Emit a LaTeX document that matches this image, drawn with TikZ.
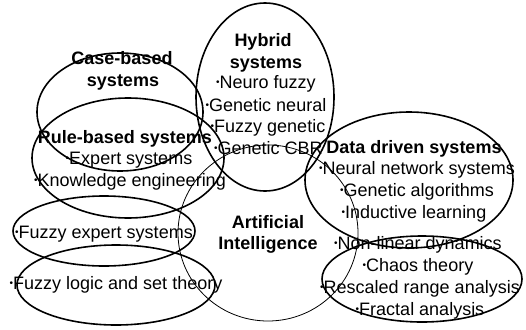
\documentclass[tikz,border=0pt]{standalone}
\usepackage{fontspec}
\setmainfont{Liberation Sans}
\usetikzlibrary{shapes.geometric}
\newcommand\bdot{\raisebox{2.6pt}{\fontsize{10}{10}\selectfont •}}
\begin{document}
\begin{tikzpicture}[x=1pt,y=-1pt,
  ring/.style={draw=black, line width=1.6pt, ellipse, inner sep=0pt},
  thinring/.style={draw=black, line width=0.8pt, ellipse, inner sep=0pt},
  lbl/.style={anchor=base, inner sep=0pt, font=\fontsize{18}{21}\selectfont},
  hd/.style={anchor=base, inner sep=0pt, font=\fontsize{18}{21}\selectfont\bfseries}]
\useasboundingbox (0,0) rectangle (526,329);
% ellipses
\node[thinring, minimum width=180pt, minimum height=176pt] (aiE) at (268,233) {};
\node[ring, minimum width=166pt, minimum height=118pt] (caseE) at (120,112) {};
\node[ring, minimum width=192pt, minimum height=120pt] (ruleE) at (128,158) {};
\node[ring, minimum width=138pt, minimum height=188pt] (hybE) at (265,97) {};
\node[ring, minimum width=208pt, minimum height=136pt] (dataE) at (409,180) {};
\node[ring, minimum width=200pt, minimum height=86pt] (nonlE) at (422,279) {};
\node[ring, minimum width=182pt, minimum height=70pt] (fexpE) at (104,231) {};
\node[ring, minimum width=198pt, minimum height=80pt] (flogE) at (116,285) {};
% texts
\node[hd] (t1) at (122,64) {Case-based};
\node[hd] (t2) at (123,86) {systems};
\node[hd] (t3) at (263,46) {Hybrid};
\node[hd] (t4) at (266,68) {systems};
\node[lbl] (t5) at (266,88) {\bdot Neuro fuzzy};
\node[lbl] (t6) at (266,111) {\bdot Genetic neural};
\node[lbl] (t7) at (268,132) {\bdot Fuzzy genetic};
\node[lbl, anchor=base west] (t8) at (214,154) {\bdot Genetic CBR};
\node[hd] (t9) at (414,153) {Data driven systems};
\node[lbl] (t10) at (417,174) {\bdot Neural network systems};
\node[lbl] (t11) at (417,196) {\bdot Genetic algorithms};
\node[lbl] (t12) at (414,218) {\bdot Inductive learning};
\node[hd] (t13) at (125,143) {Rule-based systems};
\node[lbl] (t14) at (129,164) {\bdot Expert systems};
\node[lbl] (t15) at (130,186) {\bdot Knowledge engineering};
\node[lbl] (t16) at (104,238) {\bdot Fuzzy expert systems};
\node[lbl] (t17) at (116,289) {\bdot Fuzzy logic and set theory};
\node[hd] (t18) at (268,228) {Artificial};
\node[hd] (t19) at (268,249) {Intelligence};
\node[lbl] (t20) at (418,249) {\bdot Non-linear dynamics};
\node[lbl] (t21) at (418,271) {\bdot Chaos theory};
\node[lbl] (t22) at (420,293) {\bdot Rescaled range analysis};
\node[lbl] (t23) at (420,315) {\bdot Fractal analysis};
\end{tikzpicture}
\end{document}
